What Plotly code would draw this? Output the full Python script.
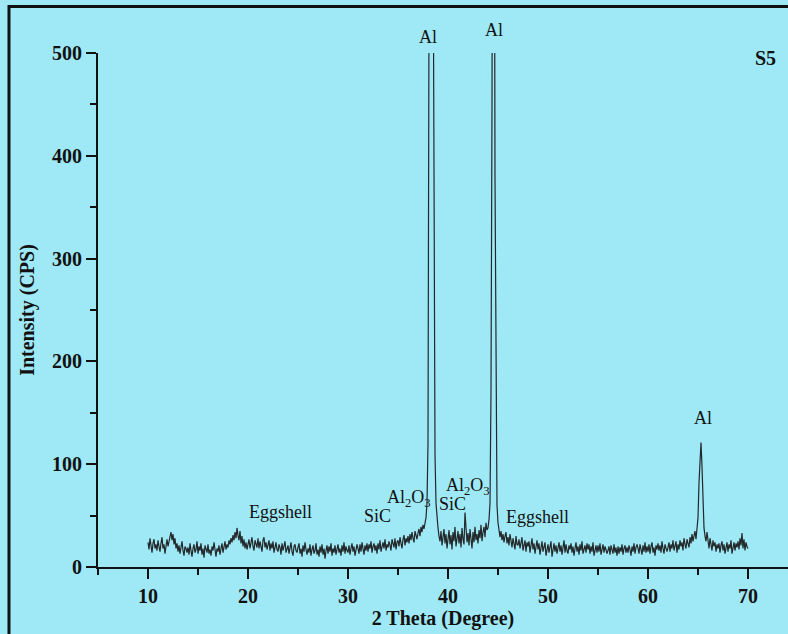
import numpy as np
import plotly.graph_objects as go

# XRD pattern of sample S5, 0.1 degree steps from 10.0 to 70.0 (one row per degree)
two_theta_start = 10.0
two_theta_step = 0.1
intensity_rows = [
    [24, 17, 28, 21, 14, 23, 27, 18, 22, 16],   # 10
    [26, 20, 15, 23, 29, 18, 22, 13, 21, 27],   # 11
    [20, 25, 30, 34, 26, 32, 22, 28, 18, 23],   # 12
    [15, 21, 13, 19, 25, 16, 11, 20, 18, 14],   # 13
    [19, 12, 23, 16, 10, 18, 22, 14, 17, 25],   # 14
    [13, 20, 16, 23, 12, 18, 9, 21, 17, 14],    # 15
    [22, 13, 17, 11, 20, 16, 24, 14, 10, 18],   # 16
    [15, 21, 12, 18, 23, 14, 19, 25, 17, 22],   # 17
    [19, 26, 22, 28, 24, 31, 26, 34, 28, 38],   # 18
    [31, 26, 35, 23, 30, 20, 27, 18, 24, 17],   # 19
    [22, 27, 18, 25, 29, 20, 16, 26, 23, 19],   # 20
    [28, 18, 25, 21, 15, 26, 29, 19, 24, 17],   # 21
    [21, 26, 16, 23, 18, 25, 14, 20, 24, 17],   # 22
    [15, 22, 19, 12, 23, 16, 21, 25, 14, 18],   # 23
    [21, 13, 18, 24, 15, 11, 20, 22, 16, 14],   # 24
    [19, 23, 13, 18, 10, 21, 15, 24, 17, 12],   # 25
    [18, 14, 22, 11, 17, 21, 13, 16, 23, 12],   # 26
    [17, 10, 20, 14, 22, 12, 18, 8, 16, 21],    # 27
    [13, 20, 15, 23, 11, 18, 14, 21, 12, 17],   # 28
    [22, 14, 18, 11, 21, 15, 24, 13, 20, 16],   # 29
    [14, 21, 12, 18, 23, 15, 20, 11, 17, 22],   # 30
    [18, 13, 22, 15, 24, 19, 12, 21, 16, 23],   # 31
    [15, 22, 18, 25, 14, 20, 23, 16, 21, 13],   # 32
    [23, 17, 26, 15, 21, 24, 18, 27, 16, 22],   # 33
    [19, 25, 21, 16, 27, 22, 19, 28, 17, 24],   # 34
    [26, 20, 29, 23, 18, 27, 31, 21, 28, 24],   # 35
    [30, 23, 32, 26, 34, 28, 24, 35, 30, 27],   # 36
    [33, 37, 30, 39, 34, 41, 37, 44, 48, 62],   # 37
    [120, 540, 820, 900, 860, 660, 310, 110, 62, 44],  # 38  Al (111)
    [38, 30, 25, 35, 21, 29, 37, 23, 32, 18],   # 39
    [27, 36, 22, 31, 17, 34, 25, 39, 20, 29],   # 40
    [35, 23, 32, 19, 38, 27, 22, 53, 30, 24],   # 41
    [33, 21, 37, 28, 18, 34, 24, 39, 26, 32],   # 42
    [23, 36, 28, 41, 25, 34, 39, 29, 43, 36],   # 43
    [38, 46, 62, 170, 450, 950, 880, 380, 130, 60],  # 44  Al (200)
    [43, 35, 29, 35, 26, 32, 24, 30, 34, 23],   # 45
    [29, 21, 32, 26, 19, 28, 23, 17, 30, 22],   # 46
    [21, 27, 18, 25, 29, 16, 23, 26, 15, 24],   # 47
    [20, 25, 14, 22, 28, 17, 23, 13, 19, 26],   # 48
    [17, 23, 12, 21, 25, 15, 20, 24, 11, 18],   # 49
    [22, 14, 20, 25, 10, 18, 23, 15, 21, 13],   # 50
    [18, 24, 15, 21, 12, 20, 26, 14, 22, 16],   # 51
    [13, 21, 17, 23, 14, 20, 11, 18, 24, 15],   # 52
    [20, 12, 22, 16, 25, 13, 19, 21, 14, 23],   # 53
    [17, 22, 13, 20, 15, 24, 11, 18, 21, 14],   # 54
    [21, 15, 23, 12, 19, 22, 14, 20, 17, 13],   # 55
    [16, 20, 12, 21, 17, 13, 22, 14, 19, 11],   # 56
    [20, 13, 19, 15, 22, 12, 18, 21, 14, 19],   # 57
    [14, 21, 17, 11, 20, 15, 23, 13, 19, 22],   # 58
    [18, 13, 22, 17, 12, 21, 15, 24, 14, 20],   # 59
    [15, 22, 13, 20, 24, 14, 19, 11, 21, 17],   # 60
    [23, 16, 21, 14, 25, 18, 13, 22, 19, 15],   # 61
    [19, 24, 15, 22, 18, 26, 16, 21, 25, 14],   # 62
    [22, 17, 26, 20, 24, 16, 28, 22, 18, 27],   # 63
    [24, 19, 29, 23, 32, 25, 30, 35, 27, 37],   # 64
    [48, 82, 106, 121, 98, 62, 38, 30, 25, 34], # 65  Al (220)
    [23, 18, 28, 22, 16, 26, 20, 24, 15, 22],   # 66
    [18, 23, 14, 21, 25, 16, 22, 13, 19, 24],   # 67
    [15, 22, 18, 26, 13, 21, 24, 16, 23, 19],   # 68
    [25, 17, 28, 21, 33, 18, 27, 16, 24, 20],   # 69
    [18],                                       # 70
]

intensity = [v for row in intensity_rows for v in row]
two_theta = [round(two_theta_start + i * two_theta_step, 1) for i in range(len(intensity))]

x_ticks = [10, 20, 30, 40, 50, 60, 70]
y_ticks = [0, 100, 200, 300, 400, 500]

# Phase labels inside the plot area: (text, 2theta, intensity position)
phase_labels = [
    ("Al", 65.5, 145),
    ("Eggshell", 23.2, 53.5),
    ("SiC", 32.9, 49.6),
    ("Al<sub>2</sub>O<sub>3</sub>", 36.1, 67),
    ("SiC", 40.4, 61),
    ("Al<sub>2</sub>O<sub>3</sub>", 42.0, 78),
    ("Eggshell", 48.9, 48.6),
]
# Labels of the two main peaks, set just above the top of the axis (paper height)
top_labels = [
    ("Al", 38.0, 1.031),
    ("Al", 44.6, 1.045),
]

bg = "#9fe9f6"
serif = "Liberation Serif"
ink = "#111111"

fig = go.Figure()
fig.add_trace(go.Scatter(
    x=two_theta, y=intensity, mode="lines",
    line=dict(color="#23282a", width=1.2),
    hoverinfo="skip", showlegend=False,
))

for text, xv, yv in phase_labels:
    fig.add_annotation(x=xv, y=yv, text=text, showarrow=False,
                       font=dict(family=serif, size=18, color=ink))

for text, xv, yv in top_labels:
    fig.add_annotation(x=xv, xref="x", y=yv, yref="paper", yanchor="middle",
                       text=text, showarrow=False,
                       font=dict(family=serif, size=18, color=ink))

fig.add_annotation(x=71.7, y=495, text="S5", showarrow=False,
                   font=dict(family=serif, size=20, color=ink, weight="bold"))

# outer frame of the figure
fig.add_shape(type="rect", xref="paper", yref="paper",
              x0=-0.129, x1=1.2, y0=-0.4, y1=1.0905,
              line=dict(color=ink, width=3), layer="above")

axis_font = dict(family=serif, size=20, color=ink, weight="bold")

fig.update_layout(
    width=788, height=634,
    margin=dict(l=98, r=0, t=53, b=67),
    paper_bgcolor=bg, plot_bgcolor=bg,
    xaxis=dict(
        range=[5, 74], tickvals=x_ticks, ticks="outside", ticklen=10, tickwidth=2,
        tickcolor=ink, showline=True, linewidth=2, linecolor=ink,
        showgrid=False, zeroline=False, tickfont=axis_font,
        minor=dict(dtick=5, tick0=0, ticks="outside", ticklen=6, tickwidth=2, tickcolor=ink, showgrid=False),
        title=dict(text="2 Theta (Degree)", font=axis_font, standoff=4),
    ),
    yaxis=dict(
        range=[0, 500], tickvals=y_ticks, ticks="outside", ticklen=10, tickwidth=2,
        tickcolor=ink, showline=True, linewidth=2, linecolor=ink,
        showgrid=False, zeroline=False, tickfont=axis_font,
        minor=dict(dtick=50, tick0=0, ticks="outside", ticklen=6, tickwidth=2, tickcolor=ink, showgrid=False),
        title=dict(text="Intensity (CPS)", font=axis_font, standoff=12),
    ),
)

fig.write_html("out.html")
